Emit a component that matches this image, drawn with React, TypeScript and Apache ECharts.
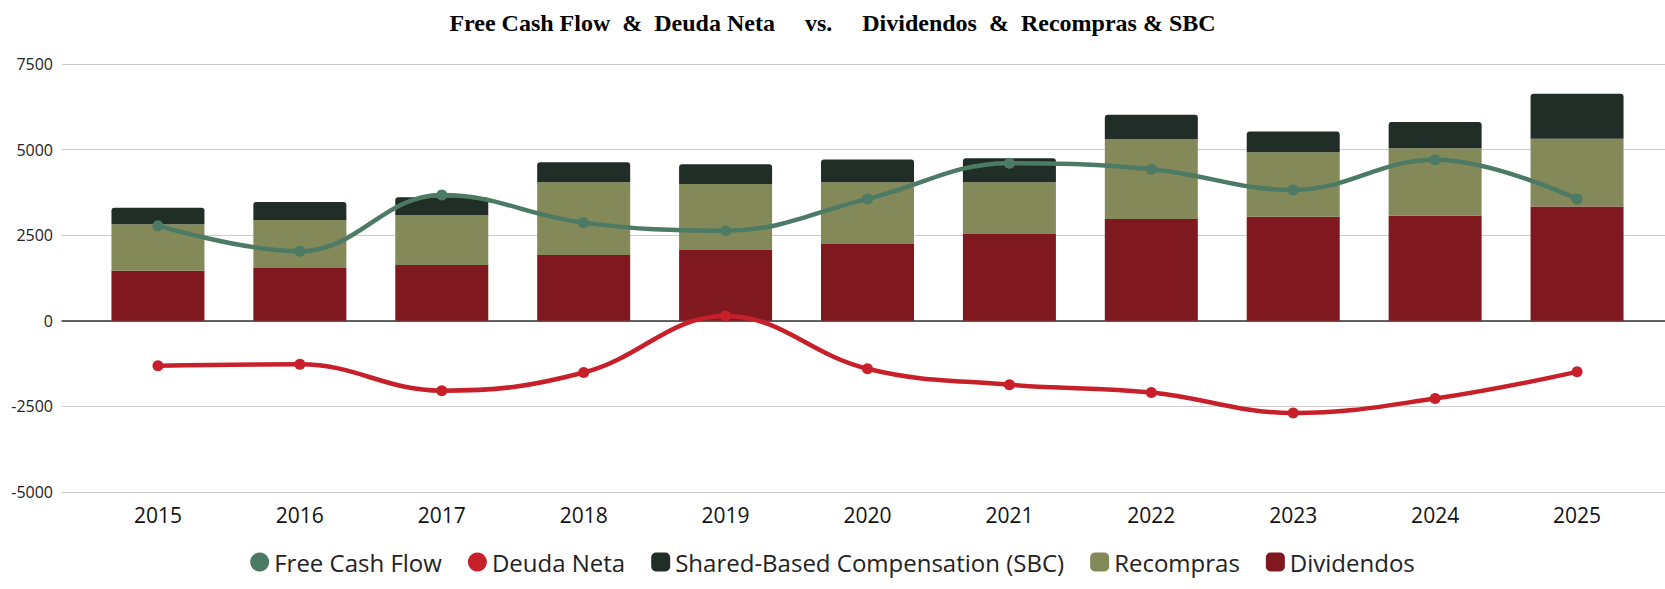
import React, { useEffect, useRef } from "react";
import * as echarts from "echarts";

const years = ["2015", "2016", "2017", "2018", "2019", "2020", "2021", "2022", "2023", "2024", "2025"];
const dividendos = [1462, 1541, 1629, 1922, 2068, 2243, 2536, 2975, 3042, 3071, 3335];
const recompras = [1357, 1404, 1454, 2126, 1930, 1805, 1512, 2331, 1884, 1972, 1980];
const sbc = [486, 527, 526, 585, 577, 662, 702, 711, 602, 760, 1316];
const freeCashFlow = [2779, 2030, 3676, 2867, 2633, 3560, 4604, 4428, 3823, 4705, 3560];
const deudaNeta = [-1310, -1270, -2040, -1510, 137, -1400, -1865, -2095, -2690, -2271, -1491];
const yTicks = { min: -5000, max: 7500, interval: 2500 };

const C_DIV = "#80181f";
const C_REC = "#838958";
const C_SBC = "#212d27";
const C_FCF = "#4d7a64";
const C_DEU = "#c8202a";

export default function App() {
  const ref = useRef<HTMLDivElement>(null);
  useEffect(() => {
    document.body.style.margin = "0";
    const chart = echarts.init(ref.current!, null, { renderer: "svg" });
    const font = "'Open Sans', sans-serif";
    chart.setOption({
      animation: false,
      backgroundColor: "#ffffff",
      title: {
        text: "Free Cash Flow  &  Deuda Neta     vs.     Dividendos  &  Recompras & SBC",
        left: "center",
        top: 6,
        textStyle: {
          fontFamily: "'Liberation Serif', serif",
          fontWeight: "bold",
          fontSize: 24,
          color: "#000",
        },
      },
      legend: {
        top: 545,
        left: "center",
        itemWidth: 19,
        itemHeight: 19,
        itemGap: 26,
        textStyle: { fontFamily: font, fontSize: 24, color: "#222" },
        data: [
          { name: "Free Cash Flow", icon: "circle" },
          { name: "Deuda Neta", icon: "circle" },
          { name: "Shared-Based Compensation (SBC)", icon: "roundRect" },
          { name: "Recompras", icon: "roundRect" },
          { name: "Dividendos", icon: "roundRect" },
        ],
      },
      grid: [
        { left: 87, right: 17, top: 64, bottom: 97 },
        { left: 62, right: 0, top: 64, bottom: 97 },
      ],
      xAxis: [
        {
          type: "category",
          gridIndex: 0,
          data: years,
          axisLine: { show: false, onZero: false },
          axisTick: { show: false },
          axisLabel: { fontFamily: font, fontSize: 21, color: "#111", margin: 12 },
        },
        {
          type: "value",
          gridIndex: 1,
          min: 0,
          max: 1,
          axisLine: { show: true, onZero: true, lineStyle: { color: "#333", width: 1.5 } },
          axisTick: { show: false },
          axisLabel: { show: false },
          splitLine: { show: false },
        },
      ],
      yAxis: [
        {
          type: "value",
          gridIndex: 0,
          min: yTicks.min,
          max: yTicks.max,
          interval: yTicks.interval,
          axisLabel: { show: false },
          axisLine: { show: false },
          axisTick: { show: false },
          splitLine: { show: false },
        },
        {
          type: "value",
          gridIndex: 1,
          min: yTicks.min,
          max: yTicks.max,
          interval: yTicks.interval,
          axisLabel: {
            fontFamily: font,
            fontSize: 16,
            color: "#222",
            margin: 9,
            formatter: (v: number) => String(v),
          },
          axisLine: { show: false },
          axisTick: { show: false },
          splitLine: { show: true, lineStyle: { color: "#cccccc", width: 1 } },
        },
      ],
      series: [
        {
          name: "Dividendos",
          type: "bar",
          stack: "uso",
          xAxisIndex: 0,
          yAxisIndex: 0,
          barWidth: 93,
          itemStyle: { color: C_DIV },
          data: dividendos,
        },
        {
          name: "Recompras",
          type: "bar",
          stack: "uso",
          xAxisIndex: 0,
          yAxisIndex: 0,
          barWidth: 93,
          itemStyle: { color: C_REC },
          data: recompras,
        },
        {
          name: "Shared-Based Compensation (SBC)",
          type: "bar",
          stack: "uso",
          xAxisIndex: 0,
          yAxisIndex: 0,
          barWidth: 93,
          itemStyle: { color: C_SBC, borderRadius: [3, 3, 0, 0] },
          data: sbc,
        },
        {
          name: "Free Cash Flow",
          type: "line",
          xAxisIndex: 0,
          yAxisIndex: 0,
          smooth: 0.4,
          symbol: "circle",
          symbolSize: 11,
          z: 5,
          lineStyle: { color: C_FCF, width: 4.5 },
          itemStyle: { color: C_FCF },
          data: freeCashFlow,
        },
        {
          name: "Deuda Neta",
          type: "line",
          xAxisIndex: 0,
          yAxisIndex: 0,
          smooth: 0.4,
          symbol: "circle",
          symbolSize: 11,
          z: 5,
          lineStyle: { color: C_DEU, width: 4.5 },
          itemStyle: { color: C_DEU },
          data: deudaNeta,
        },
      ],
    });
    return () => chart.dispose();
  }, []);
  return <div ref={ref} style={{ width: 1665, height: 589 }} />;
}
